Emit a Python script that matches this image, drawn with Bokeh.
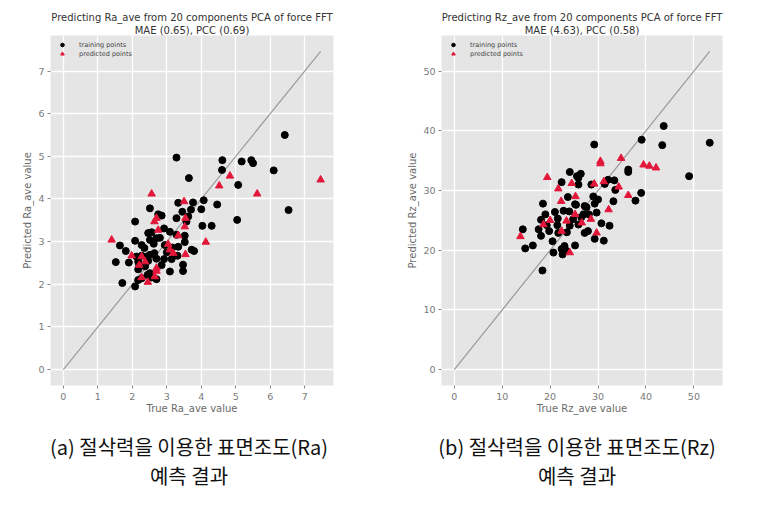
from bokeh.plotting import figure
from bokeh.models import Title, Legend, LegendItem, FixedTicker, Range1d
from bokeh.layouts import row, column
from bokeh.embed import file_html
from bokeh.resources import INLINE
from bokeh.core.properties import value

# ---------------- data ----------------
ra_train_true = [6.42, 3.28, 4.61, 5.17, 5.45, 5.50, 4.60, 6.10, 3.64, 5.07,
                 4.46, 4.07, 3.33, 3.76, 6.53, 5.04, 4.00, 4.30, 4.03, 2.51,
                 2.75, 2.85, 2.08, 3.28, 3.57, 3.62, 3.52, 2.46, 2.56, 2.92,
                 3.09, 3.28, 2.08, 2.27, 1.64, 1.81, 2.51, 2.70, 2.80, 2.94,
                 3.16, 3.33, 3.52, 3.72, 3.79, 1.52, 1.90, 2.12, 2.17, 2.27,
                 2.41, 2.51, 2.64, 2.46, 2.70, 2.92, 3.14, 3.31, 3.47, 2.17,
                 2.37, 2.51, 2.44, 3.09, 3.47, 2.17, 2.27, 2.56, 2.70, 1.71,
                 2.08, 2.35, 2.62, 3.00, 2.85, 3.45, 3.70, 2.20]
ra_train_pred = [5.50, 4.97, 4.91, 4.88, 4.91, 4.84, 4.68, 4.67, 4.49, 4.33,
                 3.87, 3.97, 3.91, 3.92, 3.74, 3.51, 3.76, 3.37, 3.37, 3.78,
                 3.64, 3.61, 3.47, 3.55, 3.47, 3.59, 3.14, 3.20, 3.22, 3.31,
                 3.23, 3.16, 3.02, 2.92, 2.91, 2.78, 3.04, 3.08, 3.09, 2.92,
                 2.86, 2.88, 2.99, 2.81, 2.78, 2.52, 2.51, 2.65, 2.53, 2.67,
                 2.65, 2.69, 2.73, 2.55, 2.60, 2.59, 2.59, 2.67, 2.46, 2.35,
                 2.42, 2.26, 2.22, 2.30, 2.31, 2.10, 2.14, 2.16, 2.12, 2.03,
                 1.95, 2.85, 2.95, 2.75, 2.45, 3.70, 3.75, 2.45]
ra_test_true = [7.46, 4.83, 4.52, 5.62, 2.56, 3.50, 1.40, 4.13, 1.98, 3.54,
                2.75, 2.70, 2.64, 3.33, 3.04, 2.27, 2.37, 2.70, 2.70, 2.27,
                3.52, 3.09, 2.65, 3.19, 3.54, 2.20, 2.45]
ra_test_pred = [4.45, 4.54, 4.31, 4.12, 4.12, 3.94, 3.04, 2.99, 2.67, 2.70,
                3.27, 3.55, 3.47, 3.14, 2.94, 2.65, 2.53, 2.38, 2.31, 2.16,
                3.35, 2.81, 2.18, 2.73, 3.55, 2.45, 2.05]

rz_train_true = [43.7, 39.1, 43.4, 53.3, 29.2, 49.0, 39.0, 37.8, 36.3, 36.3,
                 33.4, 33.6, 24.1, 26.4, 25.6, 25.9, 22.4, 25.9, 28.6, 32.1,
                 31.4, 23.7, 25.4, 29.0, 29.3, 27.6, 18.5, 21.0, 33.2, 18.4,
                 14.8, 16.4, 14.3, 20.7, 22.6, 22.4, 23.0, 25.2, 23.4, 18.1,
                 18.1, 19.8, 19.3, 17.6, 21.7, 21.5, 21.6, 24.1, 24.8, 25.9,
                 27.2, 27.9, 29.3, 31.2, 32.4, 30.7, 28.1, 29.7, 27.2, 25.2,
                 22.8, 19.0, 26.5, 23.5, 20.5, 27.0, 24.0, 30.0]
rz_train_pred = [40.8, 38.5, 37.6, 38.0, 37.7, 32.4, 29.6, 28.3, 33.5, 33.1,
                 31.7, 30.1, 33.1, 32.8, 32.4, 32.1, 31.4, 31.0, 31.0, 31.8,
                 31.1, 28.9, 27.6, 29.0, 27.8, 27.2, 27.8, 26.4, 28.2, 16.6,
                 20.3, 20.8, 23.5, 19.6, 19.3, 20.2, 20.7, 20.8, 19.9, 22.4,
                 25.1, 23.2, 24.2, 23.5, 22.9, 24.2, 25.3, 24.1, 25.2, 24.3,
                 22.9, 23.2, 21.9, 21.6, 24.1, 24.5, 26.0, 26.3, 27.4, 27.7,
                 26.6, 26.0, 25.5, 23.0, 21.5, 26.0, 26.5, 28.5]
rz_test_true = [42.1, 40.7, 39.5, 30.5, 30.5, 34.8, 19.4, 24.5, 29.2, 31.2,
                34.3, 36.3, 21.7, 22.3, 25.3, 32.2, 13.8, 24.1, 29.7, 18.6,
                22.4, 23.4, 26.6, 25.2, 28.5, 20.0]
rz_test_pred = [33.8, 34.1, 34.3, 34.9, 34.5, 35.4, 32.2, 31.2, 31.1, 31.5,
                30.6, 29.2, 30.3, 28.2, 29.0, 26.8, 22.3, 19.6, 22.9, 24.3,
                23.2, 24.9, 24.6, 26.0, 25.2, 25.0]

ra_ticks = [0, 1, 2, 3, 4, 5, 6, 7]
rz_ticks = [0, 10, 20, 30, 40, 50]

ra_titles = ["Predicting Ra_ave from 20 components PCA of force FFT",
             "MAE (0.65), PCC (0.69)"]
rz_titles = ["Predicting Rz_ave from 20 components PCA of force FFT",
             "MAE (4.63), PCC (0.58)"]
ra_labels = ["True Ra_ave value", "Predicted Ra_ave value"]
rz_labels = ["True Rz_ave value", "Predicted Rz_ave value"]
legend_labels = ["training points", "predicted points"]
captions_line1 = ["(a) 절삭력을 이용한 표면조도(Ra)", "(b) 절삭력을 이용한 표면조도(Rz)"]
captions_line2 = ["예측 결과", "예측 결과"]

# ---------------- styling / layout ----------------
BG = "#e5e5e5"
RED = "#e3173a"
FONT = "DejaVu Sans"
FRAME_H = 350
TOP, BOTTOM = 35, 30
L1, F1, R1 = 50, 283, 55      # left panel: border, frame, border
L2, F2, R2 = 53, 281, 25      # right panel
CAP_W, CAP_H = L1 + F1 + R1 + L2 + F2 + R2, 74


def make_panel(tx, ty, px, py, ticks, titles, labels, bl, br, fw):
    hi = max(tx + px)
    lo_lim, hi_lim = -0.05 * hi, 1.05 * hi
    p = figure(frame_width=fw, frame_height=FRAME_H,
               min_border_left=bl, min_border_right=br,
               min_border_top=TOP, min_border_bottom=BOTTOM,
               x_range=Range1d(lo_lim, hi_lim), y_range=Range1d(lo_lim, hi_lim),
               output_backend="svg", toolbar_location=None)
    p.background_fill_color = BG
    p.border_fill_color = "white"
    p.outline_line_color = None
    p.grid.grid_line_color = "white"
    p.grid.grid_line_width = 1.3

    # titles (first added sits closest to the frame)
    p.add_layout(Title(text=titles[1], align="center", text_font=FONT,
                       text_font_size="10px", text_font_style="normal",
                       text_color="#333333", standoff=0), "above")
    p.add_layout(Title(text=titles[0], align="center", text_font=FONT,
                       text_font_size="10px", text_font_style="normal",
                       text_color="#333333", standoff=0), "above")

    p.xaxis.axis_label = labels[0]
    p.yaxis.axis_label = labels[1]
    for ax in (p.xaxis[0], p.yaxis[0]):
        ax.ticker = FixedTicker(ticks=ticks)
        ax.axis_line_color = None
        ax.major_tick_line_color = "#888888"
        ax.major_tick_out = 3
        ax.major_tick_in = 0
        ax.minor_tick_line_color = None
        ax.major_label_text_font = FONT
        ax.major_label_text_font_size = "9.5px"
        ax.major_label_text_color = "#7a7a7a"
        ax.axis_label_text_font = FONT
        ax.axis_label_text_font_size = "10px"
        ax.axis_label_text_font_style = "normal"
        ax.axis_label_text_color = "#6a6a6a"
    p.xaxis.major_label_standoff = 4
    p.xaxis.axis_label_standoff = 0
    p.yaxis.major_label_standoff = 3
    p.yaxis.axis_label_standoff = 2

    p.line([0, hi], [0, hi], line_color="#9a9a9a", line_width=1.2)
    r1 = p.scatter(tx, ty, marker="circle", size=7, fill_color="black",
                   line_color="black")
    r2 = p.scatter(px, py, marker="triangle", size=7.5, fill_color=RED,
                   line_color=RED)

    legend = Legend(items=[LegendItem(label=legend_labels[0], renderers=[r1]),
                           LegendItem(label=legend_labels[1], renderers=[r2])],
                    location="top_left", margin=0, padding=5, spacing=0,
                    glyph_width=14, glyph_height=9, label_height=9,
                    label_standoff=10, label_text_font=FONT,
                    label_text_font_size="6.5px", label_text_color="#444444",
                    background_fill_alpha=0, border_line_alpha=0)
    p.add_layout(legend)
    return p


p1 = make_panel(ra_train_true, ra_train_pred, ra_test_true, ra_test_pred,
                ra_ticks, ra_titles, ra_labels, L1, R1, F1)
p2 = make_panel(rz_train_true, rz_train_pred, rz_test_true, rz_test_pred,
                rz_ticks, rz_titles, rz_labels, L2, R2, F2)

# ---------------- captions ----------------
cx = [L1 + F1 / 2 - 3, L1 + F1 + R1 + L2 + F2 / 2 - 5]
cap = figure(width=CAP_W, height=CAP_H, x_range=Range1d(0, CAP_W),
             y_range=Range1d(CAP_H, 0), x_axis_type=None, y_axis_type=None,
             min_border=0, output_backend="svg", toolbar_location=None)
cap.outline_line_color = None
cap.background_fill_color = "white"
cap.text(x=cx + cx, y=[30, 30, 59, 59], text=captions_line1 + captions_line2,
         text_font=value("Noto Sans CJK KR"), text_font_size="20px",
         text_align="center", text_baseline="middle", text_color="#111111")

layout = column(row(p1, p2), cap)
open("out.html", "w").write(file_html(layout, INLINE))
